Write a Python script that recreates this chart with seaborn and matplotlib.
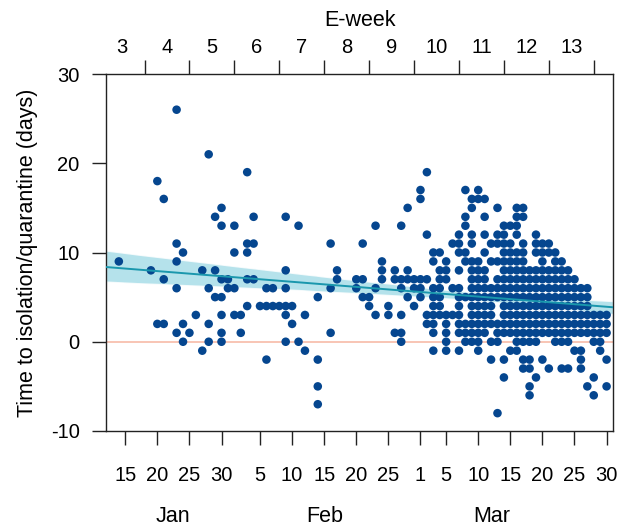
import numpy as np
import pandas as pd
import matplotlib
matplotlib.use("Agg")
import matplotlib.pyplot as plt
import matplotlib.transforms as mtransforms
import seaborn as sns

# ---- data: onset day (day-of-year 2020, Jan 1 = 1) for each delay value ----
days_at_26 = [23]
days_at_21 = [28]
days_at_19 = [34, 62]
days_at_18 = [20]
days_at_17 = [61, 68, 70]
days_at_16 = [21, 61, 69, 70, 71]
days_at_15 = [30, 59, 69, 73, 76, 77]
days_at_14 = [29, 35, 40, 68, 71, 76, 77]
days_at_13 = [30, 32, 42, 54, 58, 68, 74, 75, 76]
days_at_12 = [62, 67, 69, 71, 73, 74, 76, 79]
days_at_11 = [23, 34, 35, 47, 52, 66, 67, 69, 72, 73, 74, 75, 77, 79, 80, 81]
days_at_10 = [24, 32, 34, 63, 64, 67, 68, 71, 74, 75, 76, 77, 79, 80, 81, 82]
days_at_9 = [14, 23, 55, 63, 65, 68, 69, 70, 72, 73, 74, 75, 76, 77, 80, 82, 83]
days_at_8 = [19, 27, 29, 40, 48, 55, 57, 59, 64, 65, 67, 69, 70, 71, 74, 75, 76,
             77, 78, 79, 80, 81, 82, 83, 84]
days_at_7 = [21, 30, 31, 34, 35, 48, 51, 52, 55, 57, 58, 59, 60, 61, 62, 64, 65,
             69, 70, 71, 73, 74, 75, 76, 77, 78, 79, 80, 81, 82, 83, 84, 85]
days_at_6 = [23, 28, 31, 32, 37, 38, 40, 47, 51, 54, 58, 60, 61, 63, 64, 66, 67,
             69, 70, 71, 72, 73, 74, 75, 76, 77, 78, 79, 80, 81, 82, 83, 84, 85,
             86, 87]
days_at_5 = [29, 30, 45, 52, 53, 59, 61, 63, 64, 67, 68, 69, 70, 71, 72, 73, 74,
             75, 76, 77, 78, 79, 80, 81, 82, 83, 84, 85, 86, 87]
days_at_4 = [34, 36, 37, 38, 39, 40, 41, 53, 56, 60, 63, 64, 67, 69, 70, 71, 72,
             74, 75, 76, 77, 78, 79, 80, 81, 82, 83, 84, 85, 86, 87]
days_at_3 = [26, 30, 32, 33, 40, 43, 54, 56, 58, 62, 63, 64, 65, 66, 67, 69, 70,
             71, 72, 74, 75, 76, 77, 78, 79, 80, 81, 82, 83, 84, 85, 86, 87, 88,
             89, 90]
days_at_2 = [20, 21, 24, 28, 41, 62, 63, 65, 67, 68, 69, 70, 71, 72, 73, 74, 75,
             76, 77, 78, 79, 80, 81, 82, 83, 84, 85, 86, 87, 88, 89, 90]
days_at_1 = [23, 25, 30, 33, 47, 57, 58, 63, 65, 67, 68, 69, 70, 71, 73, 74, 75,
             76, 77, 78, 79, 80, 81, 82, 83, 84, 85, 86, 87, 88, 89, 90]
days_at_0 = [24, 28, 30, 40, 42, 58, 65, 68, 69, 70, 72, 73, 76, 77, 78, 79, 82,
             83, 84, 88, 89]
days_at_m1 = [27, 43, 63, 65, 67, 70, 75, 76, 85, 86, 89]
days_at_m2 = [37, 45, 72, 74, 77, 78, 80, 86, 90]
days_at_m3 = [77, 78, 81, 83, 84, 86]
days_at_m4 = [74, 79, 88]
days_at_m5 = [45, 78, 87, 90]
days_at_m6 = [78, 88]
days_at_m7 = [45]
days_at_m8 = [73]

delay_rows = [
    (26, days_at_26), (21, days_at_21), (19, days_at_19), (18, days_at_18),
    (17, days_at_17), (16, days_at_16), (15, days_at_15), (14, days_at_14),
    (13, days_at_13), (12, days_at_12), (11, days_at_11), (10, days_at_10),
    (9, days_at_9), (8, days_at_8), (7, days_at_7), (6, days_at_6),
    (5, days_at_5), (4, days_at_4), (3, days_at_3), (2, days_at_2),
    (1, days_at_1), (0, days_at_0), (-1, days_at_m1), (-2, days_at_m2),
    (-3, days_at_m3), (-4, days_at_m4), (-5, days_at_m5), (-6, days_at_m6),
    (-7, days_at_m7), (-8, days_at_m8),
]

# axis labels / ticks
date_tick_days = [15, 20, 25, 30, 36, 41, 46, 51, 56, 61, 65, 70, 75, 80, 85, 90]
date_tick_labels = ["15", "20", "25", "30", "5", "10", "15", "20", "25", "1",
                    "5", "10", "15", "20", "25", "30"]
month_labels = ["Jan", "Feb", "Mar"]
month_label_days = [22.4, 46.1, 72.1]
week_bounds = [18, 25, 32, 39, 46, 53, 60, 67, 74, 81, 88]
week_labels = ["3", "4", "5", "6", "7", "8", "9", "10", "11", "12", "13"]
y_ticks = [-10, 0, 10, 20, 30]

records = []
for v, days in delay_rows:
    for d in days:
        records.append((d, v))
df = pd.DataFrame(records, columns=["day", "delay"])

# ---- styling ----
sns.set_theme(style="white")
plt.rcParams['font.family'] = ['Liberation Sans', 'DejaVu Sans']

W, H = 635, 526
fig = plt.figure(figsize=(W / 100, H / 100), dpi=100)
L, R, T, B = 106, 613, 74, 431
ax = fig.add_axes([L / W, 1 - B / H, (R - L) / W, (B - T) / H])
ax.set_xlim(12, 91)
ax.set_ylim(-10, 30)

ax.axhline(0, color='#f6b5a0', lw=1.1, zorder=1)

line_col = '#1a97ad'
sns.regplot(data=df, x="day", y="delay", scatter=False, truncate=False, ax=ax,
            color=line_col, line_kws={'lw': 1.4, 'zorder': 4})
for coll in ax.collections:
    coll.set_facecolor('#a3dbe7')
    coll.set_alpha(0.8)
    coll.set_zorder(1.5)

sns.scatterplot(data=df, x="day", y="delay", ax=ax, color='#05468f', s=38,
                edgecolor='none', linewidth=0, zorder=3)

ax.set_xlim(12, 91)
ax.set_ylim(-10, 30)

spine_col = '#222222'
for s in ax.spines.values():
    s.set_visible(True)
    s.set_color(spine_col)
    s.set_linewidth(1.0)

tick_fs = 14.5
lab_fs = 15.5
ax.set_xticks(date_tick_days)
ax.set_xticklabels(date_tick_labels, fontsize=tick_fs)
ax.set_yticks(y_ticks)
ax.set_yticklabels([str(t) for t in y_ticks], fontsize=tick_fs)
ax.tick_params(axis='x', bottom=True, direction='out', length=10, width=1.0,
               color=spine_col, pad=15, labelcolor='black')
ax.tick_params(axis='y', left=True, direction='out', length=10, width=1.0,
               color=spine_col, pad=9, labelcolor='black')
ax.set_xlabel("")
ax.set_ylabel("Time to isolation/quarantine (days)", fontsize=lab_fs, color='black')
ax.yaxis.set_label_coords(-0.135, 0.5)

trans = mtransforms.blended_transform_factory(ax.transData, fig.transFigure)
for lab, d in zip(month_labels, month_label_days):
    ax.text(d, 1 - 516 / H, lab, transform=trans, ha='center', va='center',
            fontsize=lab_fs, color='black')

# top E-week axis
ax2 = ax.twiny()
ax2.set_xlim(ax.get_xlim())
ax2.set_xticks(week_bounds)
ax2.set_xticklabels([""] * len(week_bounds))
ax2.set_xticks([b - 3.5 for b in week_bounds], minor=True)
ax2.set_xticklabels(week_labels, minor=True, fontsize=tick_fs)
ax2.tick_params(axis='x', which='major', top=True, direction='out', length=10,
                width=1.0, color=spine_col)
ax2.tick_params(axis='x', which='minor', top=True, length=0, pad=12,
                labelcolor='black')
ax2.set_xlabel("E-week", fontsize=lab_fs, labelpad=9, color='black')
for s in ax2.spines.values():
    s.set_visible(False)

fig.savefig("out.png", dpi=100, facecolor='white')
